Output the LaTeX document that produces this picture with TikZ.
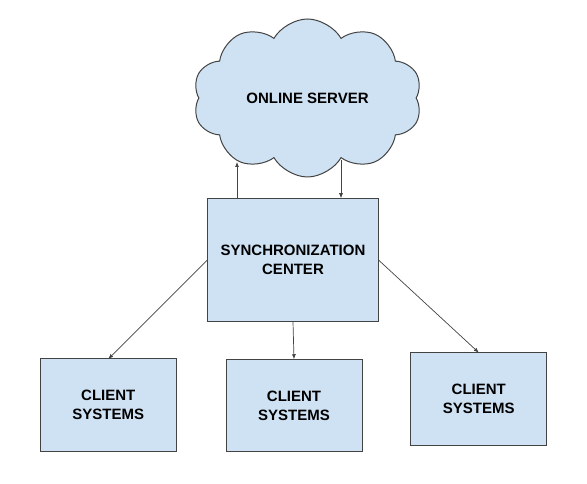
\documentclass[tikz,border=0pt]{standalone}
\usepackage{xcolor}
\usepackage{fontspec}
\setmainfont{Liberation Sans}
\usepackage{tikz}
\usetikzlibrary{shapes.symbols, arrows.meta, positioning, calc}
\definecolor{paleblue}{RGB}{207,226,243}
\definecolor{edgegray}{RGB}{67,67,67}

\begin{document}
\begin{tikzpicture}[x=1pt, y=1pt,
	box/.style={draw=edgegray, fill=paleblue, line width=1pt, align=center, inner sep=0pt, outer sep=0pt, font=\bfseries\fontsize{15}{19}\selectfont},
	link/.style={draw=edgegray, line width=0.7pt, -{Latex[length=5pt,width=4pt]}}]
				\useasboundingbox (0,0) rectangle (587,484);
				\pgfmathsetmacro{\clientw}{136}
				\pgfmathsetmacro{\clienth}{92.5}
				
				\node[box, cloud, cloud puffs=10, cloud puff arc=120, cloud ignores aspect, shape border rotate=8, minimum width=229pt, minimum height=158pt] (server) at (307.5,386) {ONLINE SERVER};
				\node[box, minimum width=171pt, minimum height=123.5pt] (sync) at (293,224) {SYNCHRONIZATION\\CENTER};
				
				\node[box, minimum width=\clientw pt, minimum height=\clienth pt] (client1) at (108.3,78.8) {CLIENT\\SYSTEMS};
				\node[box, minimum width=\clientw pt, minimum height=\clienth pt] (client2) at (294,78.5) {CLIENT\\SYSTEMS};
				\node[box, minimum width=\clientw pt, minimum height=\clienth pt] (client3) at (478.8,85.1) {CLIENT\\SYSTEMS};
				
				\coordinate (upend) at (237,322);
				\coordinate (downstart) at (341,324);
				\draw[link] (upend |- sync.north) -- (upend);
				\draw[link] (downstart) -- (downstart |- sync.north);
				
				\draw[link] (sync.west) -- (client1.north);
				\draw[link] (sync.south) -- (client2.north);
				\draw[link] (sync.east) -- (client3.north);
\end{tikzpicture}
\end{document}
